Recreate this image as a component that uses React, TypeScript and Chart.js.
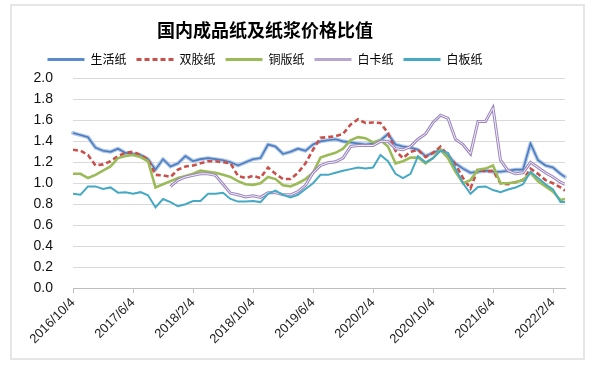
import React, { useEffect, useRef } from 'react';
import { Chart, registerables } from 'chart.js';

Chart.register(...registerables);

// x positions in months counted from 2016/10/4
const months = [
  0, 1, 2, 3, 4, 5, 6, 7, 8, 9,
  10, 11, 12, 13, 14, 15, 16, 17, 18, 19,
  20, 21, 22, 23, 24, 25, 26, 27, 28, 29,
  30, 31, 32, 33, 34, 35, 36, 37, 38, 39,
  40, 41, 42, 43, 44, 45, 46, 47, 48, 49,
  50, 51, 52, 53, 54, 55, 56, 57, 58, 59,
  60, 61, 62, 63, 64, 65, 65.6,
];

const tickLabels = [
  '2016/10/4', '2017/6/4', '2018/2/4', '2018/10/4', '2019/6/4',
  '2020/2/4', '2020/10/4', '2021/6/4', '2022/2/4',
];

const titleText = '国内成品纸及纸浆价格比值';
const seriesNames = ['生活纸', '双胶纸', '铜版纸', '白卡纸', '白板纸'];

const tissue = [
  1.48, 1.46, 1.44, 1.34, 1.31, 1.30, 1.33, 1.29, 1.28, 1.27,
  1.23, 1.13, 1.23, 1.16, 1.19, 1.26, 1.21, 1.23, 1.24, 1.23,
  1.22, 1.20, 1.17, 1.20, 1.23, 1.24, 1.37, 1.35, 1.28, 1.30,
  1.33, 1.31, 1.37, 1.40, 1.41, 1.42, 1.40, 1.39, 1.38, 1.37,
  1.38, 1.41, 1.47, 1.37, 1.35, 1.34, 1.32, 1.26, 1.29, 1.32,
  1.26, 1.19, 1.14, 1.10, 1.11, 1.12, 1.11, 1.11, 1.12, 1.13,
  1.13, 1.38, 1.22, 1.17, 1.15, 1.09, 1.06,
];

const offset = [
  1.32, 1.31, 1.27, 1.17, 1.18, 1.21, 1.26, 1.29, 1.30, 1.27,
  1.23, 1.08, 1.075, 1.06, 1.13, 1.16, 1.17, 1.19, 1.21, 1.21,
  1.20, 1.19, 1.07, 1.05, 1.07, 1.05, 1.15, 1.09, 1.04, 1.04,
  1.10, 1.19, 1.32, 1.435, 1.44, 1.45, 1.47, 1.56, 1.61, 1.575,
  1.58, 1.575, 1.48, 1.31, 1.24, 1.30, 1.32, 1.25, 1.29, 1.35,
  1.27, 1.18, 1.05, 0.95, 1.14, 1.11, 1.12, 1.00, 0.99, 1.01,
  1.03, 1.14, 1.09, 1.03, 1.00, 0.96, 0.93,
];

const coated = [
  1.09, 1.09, 1.05, 1.08, 1.12, 1.16, 1.24, 1.26, 1.27, 1.25,
  1.21, 0.96, 0.99, 1.02, 1.05, 1.07, 1.09, 1.12, 1.11, 1.10,
  1.08, 1.06, 1.02, 0.99, 0.985, 1.00, 1.06, 1.04, 0.98, 0.97,
  1.00, 1.04, 1.10, 1.245, 1.27, 1.29, 1.33, 1.41, 1.44, 1.43,
  1.39, 1.41, 1.35, 1.19, 1.21, 1.245, 1.245, 1.19, 1.24, 1.32,
  1.24, 1.11, 1.00, 1.03, 1.13, 1.14, 1.17, 1.00, 1.00, 1.01,
  1.03, 1.10, 1.02, 0.97, 0.92, 0.84, 0.85,
];

const ivory = [
  null, null, null, null, null, null, null, null, null, null,
  null, null, null, 0.97, 1.03, 1.06, 1.075, 1.09, 1.09, 1.075,
  0.99, 0.905, 0.89, 0.87, 0.88, 0.865, 0.91, 0.91, 0.89, 0.89,
  0.92, 0.98, 1.10, 1.17, 1.195, 1.205, 1.24, 1.35, 1.36, 1.36,
  1.36, 1.40, 1.40, 1.33, 1.32, 1.35, 1.42, 1.47, 1.58, 1.65,
  1.62, 1.42, 1.37, 1.28, 1.59, 1.59, 1.72, 1.22, 1.12, 1.09,
  1.10, 1.20, 1.15, 1.10, 1.06, 1.01, 0.99,
];

const duplex = [
  0.90, 0.89, 0.97, 0.97, 0.945, 0.96, 0.91, 0.915, 0.90, 0.915,
  0.885, 0.77, 0.85, 0.82, 0.78, 0.80, 0.83, 0.83, 0.90, 0.90,
  0.91, 0.85, 0.825, 0.825, 0.83, 0.82, 0.90, 0.93, 0.89, 0.865,
  0.89, 0.945, 1.00, 1.08, 1.08, 1.10, 1.12, 1.135, 1.15, 1.14,
  1.15, 1.27, 1.21, 1.09, 1.05, 1.09, 1.26, 1.20, 1.24, 1.31,
  1.29, 1.14, 1.00, 0.90, 0.965, 0.97, 0.935, 0.915, 0.94, 0.96,
  0.99, 1.11, 1.05, 0.99, 0.94, 0.82, 0.82,
];

const seriesValues = [tissue, offset, coated, ivory, duplex];

const toPoints = (vals: (number | null)[]) => months.map((m, i) => ({ x: m, y: vals[i] }));

const trace = (ctx: CanvasRenderingContext2D, pts: any[], color: string, width: number) => {
  ctx.save();
  ctx.beginPath();
  let started = false;
  pts.forEach((p: any) => {
    if (p.skip) { started = false; return; }
    if (!started) { ctx.moveTo(p.x, p.y); started = true; } else ctx.lineTo(p.x, p.y);
  });
  ctx.strokeStyle = color;
  ctx.lineWidth = width;
  ctx.lineJoin = 'round';
  ctx.lineCap = 'round';
  ctx.stroke();
  ctx.restore();
};

const lineStylePlugin = {
  id: 'lineStyles',
  beforeDatasetDraw(chart: any, args: any) {
    const ds = chart.data.datasets[args.index];
    if (ds.haloColor) trace(chart.ctx, args.meta.data, ds.haloColor, ds.haloWidth);
  },
  afterDatasetDraw(chart: any, args: any) {
    const ds = chart.data.datasets[args.index];
    if (ds.innerColor) trace(chart.ctx, args.meta.data, ds.innerColor, ds.innerWidth);
  },
};

export default function App() {
  const ref = useRef<HTMLCanvasElement | null>(null);

  useEffect(() => {
    if (!ref.current) return;
    const styles: any[] = [
      { borderColor: '#4A7DC0', borderWidth: 1.6, haloColor: '#B4C9E8', haloWidth: 4, legendColor: '#5B8BCF', order: 4 },
      { borderColor: '#C9504A', borderWidth: 2.6, borderDash: [5, 3], legendColor: '#C9504A', order: 3 },
      { borderColor: '#9BBB59', borderWidth: 2.6, legendColor: '#9BBB59', order: 2 },
      { borderColor: '#9C86BE', borderWidth: 3, innerColor: '#F4F0F8', innerWidth: 1, legendColor: '#B7A7D0', order: 1 },
      { borderColor: '#45A9C4', borderWidth: 2, legendColor: '#45A9C4', order: 0 },
    ];
    const chart = new Chart(ref.current, {
      type: 'line',
      data: {
        datasets: seriesNames.map((name, i) => ({
          label: name,
          data: toPoints(seriesValues[i]) as any,
          pointRadius: 0,
          pointHoverRadius: 0,
          tension: 0,
          fill: false,
          spanGaps: false,
          ...styles[i],
        })),
      },
      options: {
        animation: false,
        responsive: false,
        devicePixelRatio: 1,
        layout: { padding: { left: 0, right: 10, top: 0, bottom: 0 } },
        plugins: {
          tooltip: { enabled: false },
          title: {
            display: true,
            text: titleText,
            color: '#000',
            font: { family: '"Noto Sans CJK SC", sans-serif', size: 18, weight: 'bold' },
            padding: { top: 19.5, bottom: 2.4 },
          },
          // empty spacer between the legend and the plot area
          subtitle: {
            display: true,
            text: '',
            weight: 500,
            font: { size: 1, lineHeight: 1 },
            padding: { top: 2, bottom: 0 },
          },
          legend: {
            display: true,
            position: 'top',
            labels: {
              usePointStyle: true,
              pointStyle: 'line',
              pointStyleWidth: 37,
              padding: 10,
              color: '#000',
              font: { family: '"Noto Sans CJK SC", sans-serif', size: 12 },
              generateLabels: (ch: any) =>
                ch.data.datasets.map((ds: any, i: number) => ({
                  text: ds.label,
                  strokeStyle: ds.legendColor,
                  fillStyle: ds.legendColor,
                  lineWidth: 3,
                  lineDash: ds.borderDash || [],
                  pointStyle: 'line',
                  datasetIndex: i,
                  hidden: false,
                  fontColor: '#000',
                })),
              sort: (a: any, b: any) => a.datasetIndex - b.datasetIndex,
            },
          },
        },
        scales: {
          x: {
            type: 'linear',
            min: 0,
            max: 65.6,
            afterFit: (s: any) => { s.height = 83; },
            grid: {
              drawOnChartArea: false,
              drawTicks: true,
              tickLength: 5,
              color: '#BFBFBF',
            },
            border: { display: true, color: '#BFBFBF', width: 1 },
            ticks: {
              stepSize: 8,
              includeBounds: false,
              autoSkip: false,
              maxRotation: 45,
              minRotation: 45,
              padding: 2,
              color: '#222',
              font: { family: '"Liberation Sans", Arial, sans-serif', size: 13 },
              callback: (v: any) => {
                const idx = Math.round(Number(v) / 8);
                return Number(v) % 8 === 0 && idx < tickLabels.length ? tickLabels[idx] : '';
              },
            },
          },
          y: {
            min: 0,
            max: 2,
            afterFit: (s: any) => { s.width = 108; },
            grid: { color: '#D9D9D9', lineWidth: 1, drawTicks: false },
            border: { display: false },
            ticks: {
              stepSize: 0.2,
              padding: 20,
              color: '#111',
              font: { family: '"Liberation Sans", Arial, sans-serif', size: 14 },
              callback: (v: any) => Number(v).toFixed(1),
            },
          },
        },
      },
      plugins: [lineStylePlugin],
    } as any);
    return () => chart.destroy();
  }, []);

  return (
    <div style={{ position: 'fixed', left: 0, top: 0, width: 599, height: 371, background: '#fff', overflow: 'hidden' }}>
      <div style={{ position: 'absolute', left: 10, top: 4, width: 571, height: 352, border: '2px solid #E6E6E6' }} />
      <div style={{ position: 'absolute', left: -35, top: 0, width: 610, height: 371 }}>
        <canvas ref={ref} width={610} height={371} />
      </div>
    </div>
  );
}
